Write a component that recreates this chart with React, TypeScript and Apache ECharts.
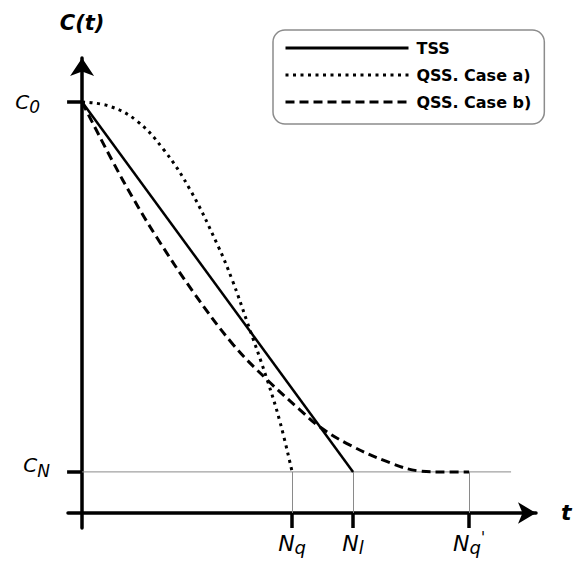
import React, { useEffect, useRef } from "react";
import * as echarts from "echarts";

// Levels and characteristic times (arbitrary units)
const C0 = 1.0;
const CN = 0.1;
const Nq = 7.75;
const Nl = 10;
const NqP = 14.28;
const guideEndT = 15.83;

const xTickValues = [Nq, Nl, NqP];
const xTickLabels = ["{n|N}{s|q}", "{n|N}{s|l}", "{n|N}{s|q}{p|'}"];
const yTickValues = [CN, C0];
const yTickLabels = ["{c|C}{s|N}\n{g| }", "{c|C}{s|0}{w| }"];

const seriesNames = ["TSS", "QSS. Case a)", "QSS. Case b)"];

const tssData = [
  [0, C0],
  [Nl, CN],
];

const caseAData = [
  [0, 1.0],
  [1, 0.99],
  [2, 0.955],
  [3, 0.885],
  [4, 0.785],
  [5, 0.652],
  [5.54, 0.567],
  [6.09, 0.465],
  [6.83, 0.324],
  [7.31, 0.22],
  [7.75, 0.1],
];

const caseBData = [
  [0, 1.0],
  [0.18, 0.976],
  [1.14, 0.854],
  [1.88, 0.766],
  [2.77, 0.669],
  [4.1, 0.538],
  [5.57, 0.41],
  [6.83, 0.324],
  [8.04, 0.251],
  [8.78, 0.209],
  [9.89, 0.165],
  [11.37, 0.122],
  [12.47, 0.102],
  [13.21, 0.1],
  [14.28, 0.1],
];

const FONT = "DejaVu Sans";

export default function App() {
  const ref = useRef<HTMLDivElement>(null);
  useEffect(() => {
    if (!ref.current) return;
    const chart = echarts.init(ref.current, null, { renderer: "svg" });
    const axisLineStyle = { color: "#000", width: 3.5 };
    chart.setOption({
      animation: false,
      backgroundColor: "#fff",
      textStyle: { fontFamily: FONT, color: "#000" },
      grid: {
        left: 68,
        right: 44,
        top: 58,
        bottom: 39,
        containLabel: false,
        outerBoundsMode: "none",
      },
      legend: {
        data: seriesNames,
        orient: "vertical",
        left: 273,
        top: 30,
        itemWidth: 123,
        itemHeight: 14,
        itemGap: 9,
        padding: [9, 13, 13, 11],
        borderColor: "#8c8c8c",
        borderWidth: 1.5,
        borderRadius: 12,
        selectedMode: false,
        itemStyle: { color: "rgba(0,0,0,0)", opacity: 0, borderWidth: 0 },
        lineStyle: { width: 3 },
        textStyle: {
          fontFamily: FONT,
          fontWeight: "bold",
          fontSize: 16,
          lineHeight: 18,
          color: "#000",
          padding: [0, 0, 0, 3],
        },
      },
      xAxis: {
        type: "value",
        min: -0.52,
        max: 16.75,
        name: "t",
        nameLocation: "end",
        nameGap: 25,
        nameTextStyle: {
          fontFamily: FONT,
          fontWeight: "bold",
          fontStyle: "italic",
          fontSize: 22,
          color: "#000",
          padding: [12, 0, 0, 0],
        },
        axisLine: {
          show: true,
          onZero: true,
          lineStyle: axisLineStyle,
          symbol: ["none", "arrow"],
          symbolSize: [16, 18],
        },
        axisTick: {
          show: true,
          length: 15,
          lineStyle: axisLineStyle,
          customValues: xTickValues,
        },
        axisLabel: {
          show: true,
          margin: 2,
          customValues: xTickValues,
          formatter: (v: number) => {
            let best = 0;
            xTickValues.forEach((t, i) => {
              if (Math.abs(t - v) < Math.abs(xTickValues[best] - v)) best = i;
            });
            return xTickLabels[best];
          },
          rich: {
            n: { fontFamily: FONT, fontStyle: "italic", fontSize: 22, lineHeight: 26, color: "#000" },
            s: { fontFamily: FONT, fontStyle: "italic", fontSize: 18, lineHeight: 21, verticalAlign: "bottom", color: "#000" },
            p: { fontFamily: FONT, fontSize: 15, lineHeight: 15, verticalAlign: "top", color: "#000" },
          },
        },
        splitLine: { show: false },
      },
      yAxis: {
        type: "value",
        min: -0.0365,
        max: 1.107,
        name: "C(t)",
        nameLocation: "end",
        nameGap: 25,
        nameTextStyle: {
          fontFamily: FONT,
          fontWeight: "bold",
          fontStyle: "italic",
          fontSize: 21,
          color: "#000",
        },
        axisLine: {
          show: true,
          onZero: true,
          lineStyle: axisLineStyle,
          symbol: ["none", "arrow"],
          symbolSize: [18, 18],
        },
        axisTick: {
          show: true,
          length: 15,
          lineStyle: axisLineStyle,
          customValues: yTickValues,
        },
        axisLabel: {
          show: true,
          margin: 18,
          customValues: yTickValues,
          formatter: (v: number) => {
            let best = 0;
            yTickValues.forEach((t, i) => {
              if (Math.abs(t - v) < Math.abs(yTickValues[best] - v)) best = i;
            });
            return yTickLabels[best];
          },
          rich: {
            c: { fontFamily: FONT, fontStyle: "italic", fontSize: 20, lineHeight: 28, color: "#000" },
            s: { fontFamily: FONT, fontStyle: "italic", fontSize: 17, lineHeight: 16, verticalAlign: "bottom", color: "#000" },
            g: { fontSize: 10, lineHeight: 13 },
            w: { fontSize: 10, width: 10 },
          },
        },
        splitLine: { show: false },
      },
      series: [
        {
          name: "TSS",
          type: "line",
          data: tssData,
          symbol: "none",
          z: 5,
          lineStyle: { color: "#000", width: 2.5, type: "solid" },
          itemStyle: { color: "#000" },
        },
        {
          name: "QSS. Case a)",
          type: "line",
          data: caseAData,
          symbol: "none",
          smooth: 0.4,
          z: 5,
          lineStyle: { color: "#000", width: 3, type: [3, 4.5], cap: "butt" },
          itemStyle: { color: "#000" },
        },
        {
          name: "QSS. Case b)",
          type: "line",
          data: caseBData,
          symbol: "none",
          smooth: 0.4,
          z: 5,
          lineStyle: { color: "#000", width: 3, type: [9, 5], cap: "butt" },
          itemStyle: { color: "#000" },
        },
        {
          name: "guides",
          type: "line",
          data: [
            [0, CN],
            [guideEndT, CN],
          ],
          symbol: "none",
          silent: true,
          z: 1,
          lineStyle: { color: "#8a8a8a", width: 1 },
          markLine: {
            silent: true,
            symbol: ["none", "none"],
            label: { show: false },
            lineStyle: { color: "#8a8a8a", width: 1, type: "solid" },
            data: xTickValues.map((t) => [
              { coord: [t, 0] },
              { coord: [t, CN] },
            ]),
          },
        },
      ],
    });
    return () => chart.dispose();
  }, []);
  return (
    <div
      ref={ref}
      style={{ position: "absolute", left: 0, top: 0, width: 580, height: 567 }}
    />
  );
}
